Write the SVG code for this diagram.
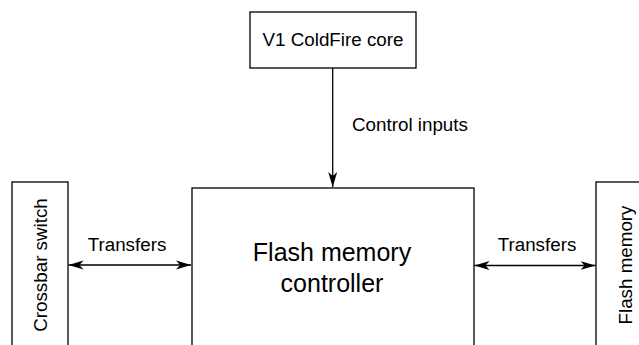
<svg xmlns="http://www.w3.org/2000/svg" width="639" height="345" viewBox="0 0 639 345">
<style>
.box{fill:#fff;stroke:#000;stroke-width:1.3}
.lbl{font-family:"Liberation Sans",Arial,sans-serif;font-size:18.8px;fill:#000;text-anchor:middle}
.big{font-family:"Liberation Sans",Arial,sans-serif;font-size:25px;fill:#000;text-anchor:middle}
.conn{stroke:#000;stroke-width:1.3;fill:none}
</style>
<defs>
<marker id="ah" markerUnits="userSpaceOnUse" markerWidth="16" markerHeight="12" viewBox="0 0 16 12" refX="15" refY="6" orient="auto-start-reverse">
<path d="M0,1.5 L15,6 L0,10.5 L4,6 z" fill="#000"/>
</marker>
</defs>
<rect width="639" height="345" fill="#fff"/>
<g id="core">
<rect class="box" x="250" y="12" width="166" height="56"/>
<text class="lbl" x="333" y="46">V1 ColdFire core</text>
</g>
<g id="controller">
<rect class="box" x="192" y="188" width="282" height="170"/>
<text class="big" x="332" y="261">Flash memory</text>
<text class="big" x="332" y="292">controller</text>
</g>
<g id="crossbar">
<rect class="box" x="12" y="182" width="56" height="176"/>
<text class="lbl" transform="translate(47 265) rotate(-90)">Crossbar switch</text>
</g>
<g id="flash">
<rect class="box" x="596" y="182" width="60" height="176"/>
<text class="lbl" transform="translate(632 265) rotate(-90)">Flash memory</text>
</g>
<g id="connectors">
<line class="conn" x1="332.7" y1="68" x2="332.7" y2="187" marker-end="url(#ah)"/>
<text class="lbl" x="410" y="131">Control inputs</text>
<line class="conn" x1="68.5" y1="265" x2="191" y2="265" marker-start="url(#ah)" marker-end="url(#ah)"/>
<text class="lbl" x="127" y="251">Transfers</text>
<line class="conn" x1="474.5" y1="265.5" x2="595.5" y2="265.5" marker-start="url(#ah)" marker-end="url(#ah)"/>
<text class="lbl" x="537" y="251">Transfers</text>
</g>
</svg>
